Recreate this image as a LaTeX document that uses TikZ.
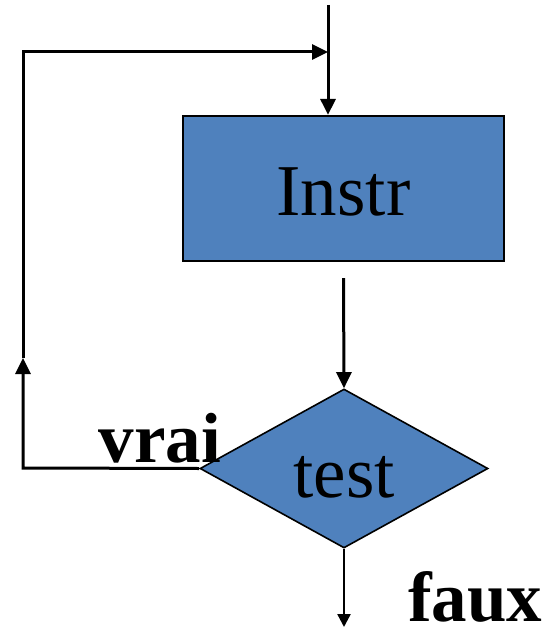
\documentclass[tikz,border=0pt]{standalone}
\usepackage{fontspec}
\setmainfont{Liberation Serif}
\usepackage{tikz}
\usetikzlibrary{arrows.meta,shapes.geometric}
\usepackage{xcolor}
\definecolor{FlowBlue}{HTML}{4F81BD}

\begin{document}
\begin{tikzpicture}[x=1pt,y=-1pt,>={Triangle[length=16pt,width=15pt]},
  flowbox/.style={draw,line width=2.2pt,fill=FlowBlue,minimum width=321pt,minimum height=145pt,
    inner sep=0pt,font=\fontsize{73}{80}\selectfont},
  flowtest/.style={diamond,draw,line width=1.6pt,fill=FlowBlue,aspect=1.8,minimum width=288pt,
    minimum height=159pt,inner sep=0pt,font=\fontsize{73}{80}\selectfont},
  flowlabel/.style={inner sep=0pt,font=\fontsize{71}{80}\selectfont\bfseries},
  link/.style={line width=3pt}]
  \useasboundingbox (0,0) rectangle (554,631);
  \node[flowbox,text height=53pt,text depth=0pt] (instr) at (343.5,188.5) {Instr};
  \node[flowtest,text height=57pt,text depth=0pt] (test) at (344,468.5) {test};
  \coordinate (entry) at (328,5);
  \coordinate (join) at (328,52);
  \coordinate (corner) at (23,52);
  \coordinate (turn) at (23,468);
  \coordinate (up) at (23,358);
  \coordinate (exit) at (344,627);
  \draw[link,->] (entry) -- (entry |- instr.north);
  \draw[link,->] (test.west) -- (turn) -- (up);
  \draw[link,->] (up) -- (corner) -- (join);
  \draw[link,->] ([yshift=-16pt]instr.south) -- (test.north);
  \draw[line width=2.4pt,-{Triangle[length=13pt,width=13pt]}] (test.south) -- (exit);
  \node[flowlabel,anchor=base east] (vrai) at (221,462) {vrai};
  \node[flowlabel,anchor=base west] (faux) at (408,621) {faux};
\end{tikzpicture}
\end{document}
